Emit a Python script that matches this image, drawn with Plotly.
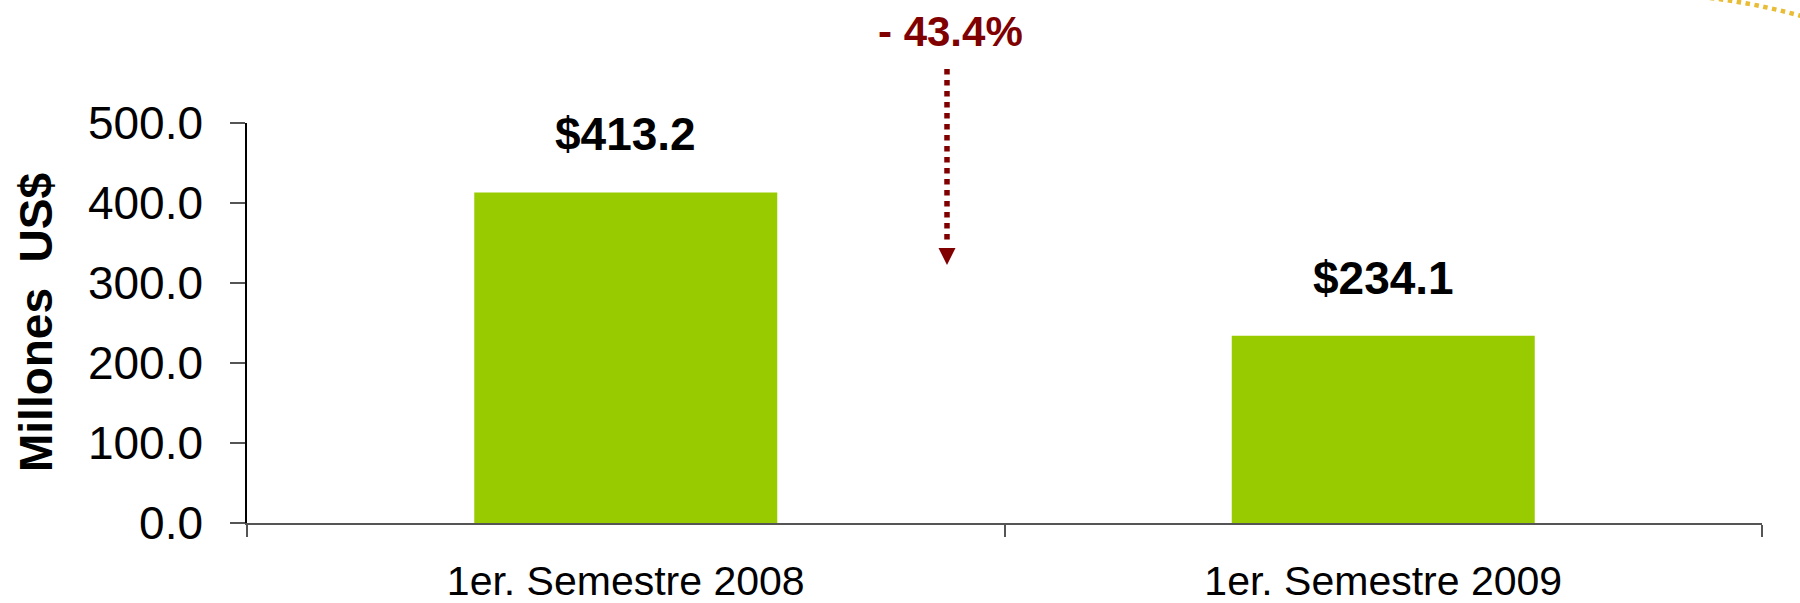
import plotly.graph_objects as go

# ---- data ----
categories = ["1er. Semestre 2008", "1er. Semestre 2009"]
values = [413.2, 234.1]
y_ticks = [0, 100, 200, 300, 400, 500]
y_tick_labels = [f"{v:.1f}" for v in y_ticks]
change_label = "- 43.4%"
y_title = "Millones  US$"

BAR_COLOR = "#99CC00"
DARK_RED = "#800000"
FONT = "Liberation Sans, Arial, sans-serif"

W, H = 1800, 603
# plot area in page pixels (body margin removed via post_script)
PX_L, PX_R, PX_T, PX_B = 247, 1762, 123, 523
ML = PX_L
MR = W - PX_R
MT = PX_T
MB = H - PX_B
PW = PX_R - PX_L
PH = PX_B - PX_T


def px_x(p):
    return (p - PX_L) / PW


def px_y(p):
    return (PX_B - p) / PH


fig = go.Figure()
fig.add_trace(go.Bar(
    x=categories, y=values, marker=dict(color=BAR_COLOR, line=dict(width=0)),
    width=0.4, hoverinfo="x+y",
))

annotations = []
for c, v in zip(categories, values):
    annotations.append(dict(
        x=c, y=v, xref="x", yref="y", text=f"<b>${v:.1f}</b>", showarrow=False,
        yanchor="bottom", yshift=30, font=dict(family=FONT, size=46, color="#000000"),
    ))
annotations.append(dict(
    x=px_x(950), y=px_y(31), xref="paper", yref="paper", text=f"<b>{change_label}</b>",
    showarrow=False, xanchor="center", yanchor="middle",
    font=dict(family=FONT, size=42, color=DARK_RED),
))
annotations.append(dict(
    x=px_x(36), y=0.5, xref="paper", yref="paper", text=f"<b>{y_title}</b>",
    showarrow=False, textangle=-90, xanchor="center", yanchor="middle",
    font=dict(family=FONT, size=46, color="#000000"),
))

shapes = [
    # dotted change arrow
    dict(type="line", xref="paper", yref="paper",
         x0=px_x(947), x1=px_x(947), y0=px_y(69), y1=px_y(245),
         line=dict(color=DARK_RED, width=5.5, dash="dot")),
    dict(type="path", xref="paper", yref="paper",
         path=f"M {px_x(938.5)},{px_y(248)} L {px_x(955.5)},{px_y(248)} L {px_x(947)},{px_y(265)} Z",
         fillcolor=DARK_RED, line=dict(width=0)),
    # decorative yellow dotted arc top-right
    dict(type="path", xref="paper", yref="paper",
         path=f"M {px_x(1710)},{px_y(-2)} Q {px_x(1755)},{px_y(3)} {px_x(1805)},{px_y(17)}",
         line=dict(color="#E8BC35", width=4.5, dash="dot")),
]

fig.update_layout(
    width=W, height=H,
    margin=dict(l=ML, r=MR, t=MT, b=MB, autoexpand=False),
    paper_bgcolor="white", plot_bgcolor="white",
    showlegend=False, bargap=0.6,
    font=dict(family=FONT, color="#000000"),
    annotations=annotations, shapes=shapes,
    xaxis=dict(
        type="category", range=[-0.5, 1.5], showgrid=False, zeroline=False,
        showline=True, linecolor="#555555", linewidth=2,
        ticks="outside", tickson="boundaries", ticklen=12, tickwidth=2, tickcolor="#555555",
        tickfont=dict(family=FONT, size=41, color="#000000"),
        ticklabelstandoff=21,
    ),
    yaxis=dict(
        range=[0, 500], tickvals=y_ticks, ticktext=y_tick_labels,
        showgrid=False, zeroline=False, showline=True, linecolor="#000000", linewidth=1.5,
        ticks="outside", ticklen=15, tickwidth=1.5, tickcolor="#555555",
        tickfont=dict(family=FONT, size=46, color="#000000"),
        ticklabelstandoff=18,
    ),
)

fig.write_html("out.html", config={"displayModeBar": False},
               post_script="document.body.style.margin='0px';")
